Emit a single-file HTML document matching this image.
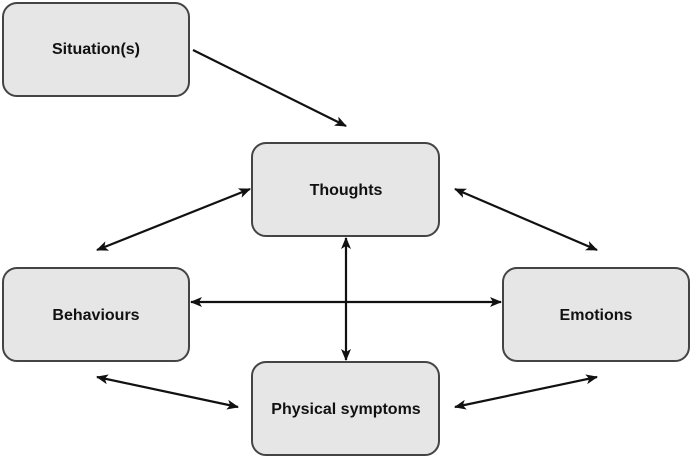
<!DOCTYPE html>
<html><head><style>
body{margin:0;width:692px;height:458px;background:#fff;overflow:hidden}
</style></head><body>
<svg width="692" height="458" xmlns="http://www.w3.org/2000/svg" font-family="Liberation Sans, sans-serif">
<defs>
<marker id="a" viewBox="0 0 12 10" refX="11" refY="5" markerWidth="12" markerHeight="10" markerUnits="userSpaceOnUse" orient="auto-start-reverse">
<path d="M0,0 L12,5 L0,10 L3,5 Z" fill="#111"/>
</marker>
</defs>
<g fill="#e6e6e6" stroke="#444" stroke-width="2">
<rect x="3" y="3" width="186" height="93" rx="14"/>
<rect x="252" y="143" width="187" height="93" rx="14"/>
<rect x="3" y="268" width="186" height="93" rx="14"/>
<rect x="503" y="268" width="186" height="93" rx="14"/>
<rect x="252" y="362" width="187" height="93" rx="14"/>
</g>
<g font-weight="bold" font-size="16" fill="#111" text-anchor="middle">
<text x="96" y="54">Situation(s)</text>
<text x="346" y="195">Thoughts</text>
<text x="96" y="320">Behaviours</text>
<text x="596" y="320">Emotions</text>
<text x="346" y="414">Physical symptoms</text>
</g>
<g stroke="#111" stroke-width="2.2" fill="none">
<line x1="193" y1="50" x2="346" y2="126" marker-end="url(#a)"/>
<line x1="250" y1="189" x2="97" y2="250" marker-start="url(#a)" marker-end="url(#a)"/>
<line x1="455" y1="189" x2="597" y2="250" marker-start="url(#a)" marker-end="url(#a)"/>
<line x1="346" y1="238" x2="346" y2="360" marker-start="url(#a)" marker-end="url(#a)"/>
<line x1="191" y1="302" x2="501" y2="302" marker-start="url(#a)" marker-end="url(#a)"/>
<line x1="97" y1="377" x2="238" y2="407" marker-start="url(#a)" marker-end="url(#a)"/>
<line x1="455" y1="407" x2="597" y2="377" marker-start="url(#a)" marker-end="url(#a)"/>
</g>
</svg>
</body></html>
